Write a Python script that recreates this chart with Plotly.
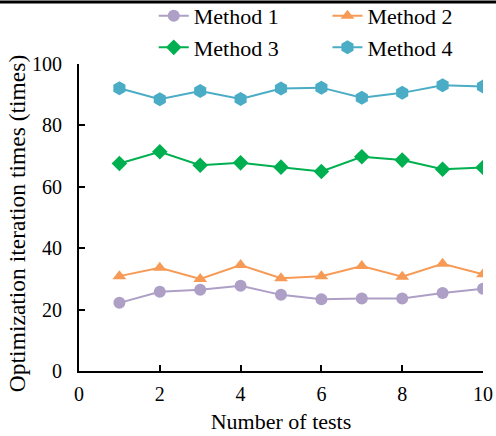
import plotly.graph_objects as go

tests = [1, 2, 3, 4, 5, 6, 7, 8, 9, 10]
method1 = [22.2, 25.8, 26.5, 27.8, 24.8, 23.4, 23.6, 23.6, 25.4, 26.8]
method2 = [30.9, 33.6, 30.0, 34.5, 30.2, 30.9, 34.2, 30.7, 34.9, 31.5]
method3 = [67.6, 71.4, 67.0, 67.8, 66.4, 65.0, 69.8, 68.7, 65.7, 66.3]
method4 = [92.1, 88.5, 91.2, 88.6, 92.0, 92.3, 89.0, 90.6, 93.1, 92.7]

series = [
    ("Method 1", method1, "#ad9fc6", "circle", 12),
    ("Method 2", method2, "#f79a55", "triangle-up", 12),
    ("Method 3", method3, "#00b050", "diamond", 12),
    ("Method 4", method4, "#4bacc6", "hexagon", 14),
]

fig = go.Figure()
for name, vals, color, sym, size in series:
    fig.add_trace(go.Scatter(
        x=tests, y=vals, name=name, mode="lines+markers",
        line=dict(color=color, width=2),
        marker=dict(symbol=sym, size=size, color=color),
    ))

font_family = "'Liberation Serif', 'Times New Roman', serif"
fig.update_layout(
    width=496, height=436,
    margin=dict(l=79, r=13, t=64, b=65, autoexpand=False),
    paper_bgcolor="white", plot_bgcolor="white",
    font=dict(family=font_family, size=20, color="black"),
    showlegend=True,
    legend=dict(
        orientation="h", x=0.185, y=1.225, xanchor="left", yanchor="top",
        entrywidth=0.43, entrywidthmode="fraction",
        bgcolor="rgba(0,0,0,0)", font=dict(size=22, family=font_family),
        tracegroupgap=0,
    ),
    xaxis=dict(
        range=[0, 10], tickvals=[0, 2, 4, 6, 8, 10],
        showline=True, linecolor="black", linewidth=2,
        ticks="inside", ticklen=6, tickwidth=2, tickcolor="black",
        showgrid=False, zeroline=False, mirror=False,
        ticklabelstandoff=4,
        title=dict(text="Number of tests", font=dict(size=22, family=font_family), standoff=10),
        tickfont=dict(size=20, family=font_family),
    ),
    yaxis=dict(
        range=[0, 100], tickvals=[0, 20, 40, 60, 80, 100],
        showline=True, linecolor="black", linewidth=2,
        ticks="inside", ticklen=6, tickwidth=2, tickcolor="black",
        showgrid=False, zeroline=False,
        ticklabelstandoff=11,
        tickfont=dict(size=20, family=font_family),
    ),
    annotations=[dict(text="Optimization iteration times (times)", textangle=-90,
                      xref="paper", yref="paper", x=-0.153, y=0.479,
                      xanchor="center", yanchor="middle", showarrow=False,
                      font=dict(size=23.5, family=font_family, color="black"))],
    shapes=[dict(type="line", xref="paper", yref="paper",
                 x0=-0.2, x1=1.04, y0=1.202, y1=1.202,
                 line=dict(color="black", width=3))],
)

fig.write_html("out.html")
